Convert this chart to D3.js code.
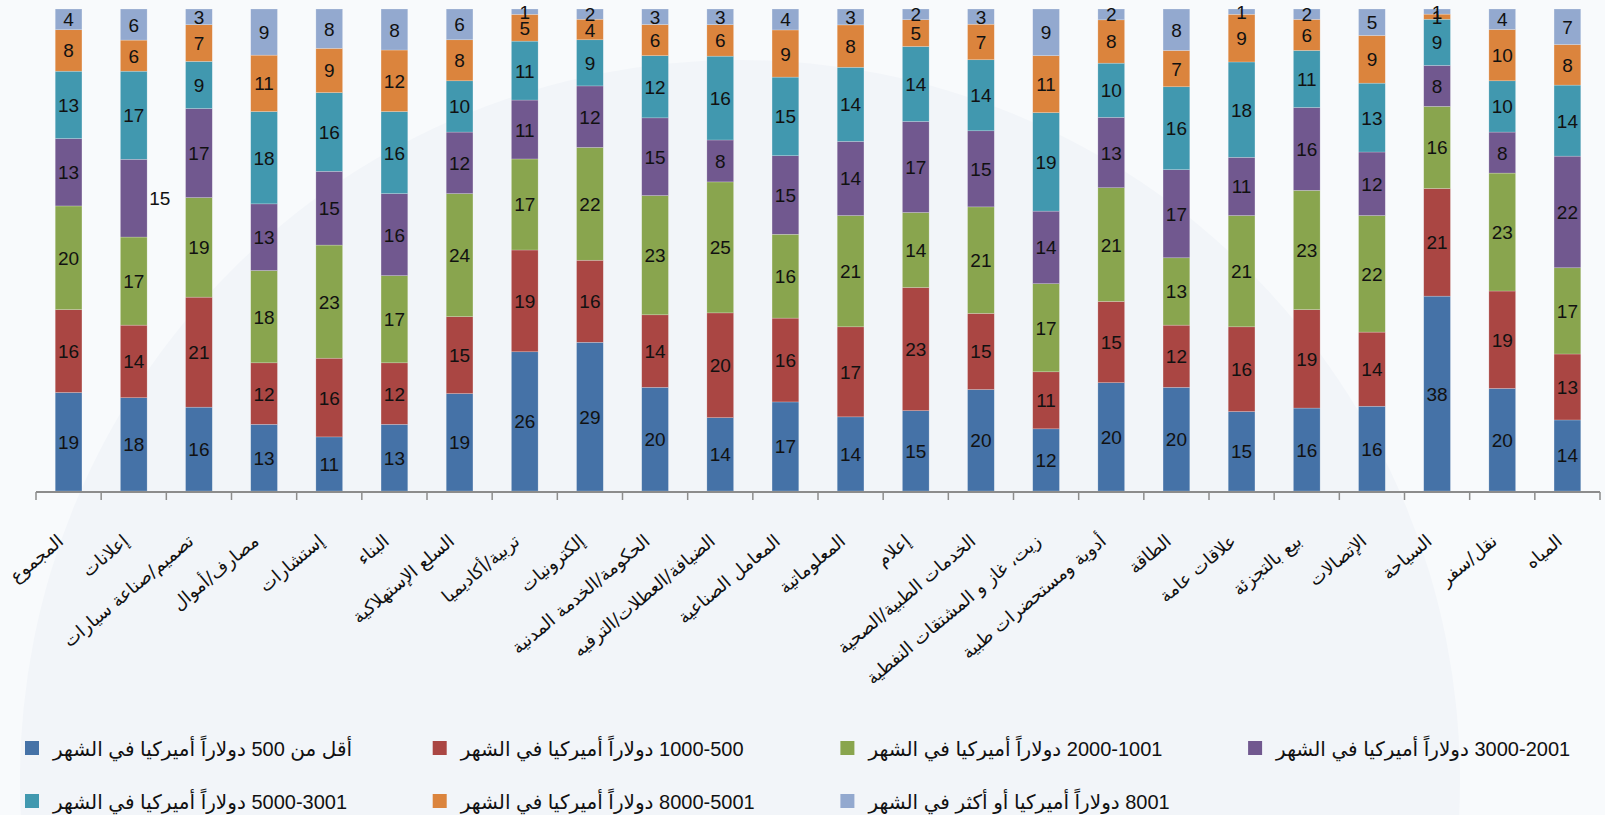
<!DOCTYPE html>
<html>
<head>
<meta charset="utf-8">
<script src="https://cdn.jsdelivr.net/npm/d3@7"></script>
<style>
  body { margin: 0; background: #f6f8fb; }
  svg { display: block; }
</style>
</head>
<body>
<svg></svg>
<script>
const categories = ["المجموع", "إعلانات", "تصميم/صناعة سيارات", "مصارف/أموال", "إستشارات", "البناء",
  "السلع الإستهلاكية", "تربية/أكاديميا", "إلكترونيات", "الحكومة/الخدمة المدنية", "الضيافة/العطلات/الترفيه",
  "المعامل الصناعية", "المعلوماتية", "إعلام", "الخدمات الطبية/الصحية", "زيت، غاز و المشتقات النفطية",
  "أدوية ومستحضرات طبية", "الطاقة", "علاقات عامة", "بيع بالتجزئة", "الإتصالات", "السياحة", "نقل/سفر", "المياه"]

// one array per salary band, bottom to top
const below500 = [19, 18, 16, 13, 11, 13, 19, 26, 29, 20, 14, 17, 14, 15, 20, 12, 20, 20, 15, 16, 16, 38, 20, 14]
const from500 = [16, 14, 21, 12, 16, 12, 15, 19, 16, 14, 20, 16, 17, 23, 15, 11, 15, 12, 16, 19, 14, 21, 19, 13]
const from1001 = [20, 17, 19, 18, 23, 17, 24, 17, 22, 23, 25, 16, 21, 14, 21, 17, 21, 13, 21, 23, 22, 16, 23, 17]
const from2001 = [13, 15, 17, 13, 15, 16, 12, 11, 12, 15, 8, 15, 14, 17, 15, 14, 13, 17, 11, 16, 12, 8, 8, 22]
const from3001 = [13, 17, 9, 18, 16, 16, 10, 11, 9, 12, 16, 15, 14, 14, 14, 19, 10, 16, 18, 11, 13, 9, 10, 14]
const from5001 = [8, 6, 7, 11, 9, 12, 8, 5, 4, 6, 6, 9, 8, 5, 7, 11, 8, 7, 9, 6, 9, 1, 10, 8]
const over8000 = [4, 6, 3, 9, 8, 8, 6, 1, 2, 3, 3, 4, 3, 2, 3, 9, 2, 8, 1, 2, 5, 1, 4, 7]

const seriesNames = [
  "أقل من 500 دولاراً أميركيا في الشهر",
  "1000-500 دولاراً أميركيا في الشهر",
  "2000-1001 دولاراً أميركيا في الشهر",
  "3000-2001 دولاراً أميركيا في الشهر",
  "5000-3001 دولاراً أميركيا في الشهر",
  "8000-5001 دولاراً أميركيا في الشهر",
  "8001 دولاراً أميركيا أو أكثر في الشهر"
]
const colors = ["#4572a7", "#aa4643", "#89a54e", "#71588f", "#4198af", "#db843d", "#93a9cf"]

const seriesValues = [below500, from500, from1001, from2001, from3001, from5001, over8000]
const keys = seriesNames.map((d, i) => "s" + i)

const rows = categories.map((c, j) => {
  const row = {cat: c}
  seriesValues.forEach((vals, i) => row[keys[i]] = vals[j])
  return row
})

let width = 1605,
    height = 815,
    plotTop = 9,
    plotBottom = 491,
    axisLeft = 36,
    axisRight = 1600

const svg = d3.select("svg").attr("width", width).attr("height", height)

// background shading
svg.append("rect").attr("width", width).attr("height", height).attr("fill", "#f8fafc")
svg.append("circle").attr("cx", 740).attr("cy", 780).attr("r", 720).attr("fill", "#f2f5f9")

const x = d3.scaleBand().domain(categories).range([axisLeft, axisRight]).paddingInner(0.59).paddingOuter(0.295)
const y = d3.scaleLinear().domain([0, 1]).range([plotBottom, plotTop])

const stacked = d3.stack().keys(keys).offset(d3.stackOffsetExpand)(rows)

const layers = svg.append("g").selectAll("g")
  .data(stacked)
  .join("g")
  .attr("fill", (d, i) => colors[i])

layers.selectAll("rect")
  .data(d => d)
  .join("rect")
  .attr("x", d => x(d.data.cat))
  .attr("y", d => y(d[1]))
  .attr("width", x.bandwidth())
  .attr("height", d => y(d[0]) - y(d[1]))
  .attr("stroke", "#ffffff")
  .attr("stroke-opacity", 0.35)
  .attr("stroke-width", 0.6)

// value labels
const labelG = svg.append("g")
  .style("font-family", "'Liberation Sans', Arial, sans-serif")
  .style("font-size", "19px")
  .attr("fill", "#111")
  .attr("text-anchor", "middle")

stacked.forEach((layer, i) => {
  layer.forEach((d, j) => {
    let lx = x(d.data.cat) + x.bandwidth() / 2
    let ly = (y(d[0]) + y(d[1])) / 2 + 7
    // the reference pushes this one label outside its bar
    if (j == 1 && i == 3) lx += 26
    labelG.append("text").attr("x", lx).attr("y", ly).text(d.data[keys[i]])
  })
})

// x axis
const axis = svg.append("g")
axis.append("line")
  .attr("x1", axisLeft).attr("x2", axisRight)
  .attr("y1", plotBottom + 1).attr("y2", plotBottom + 1)
  .attr("stroke", "#8c8c8c").attr("stroke-width", 2)

const step = x.step()
d3.range(categories.length + 1).forEach(i => {
  axis.append("line")
    .attr("x1", axisLeft + i * step).attr("x2", axisLeft + i * step)
    .attr("y1", plotBottom + 1).attr("y2", plotBottom + 9)
    .attr("stroke", "#8c8c8c").attr("stroke-width", 1.5)
})

axis.selectAll("text.cat")
  .data(categories)
  .join("text")
  .attr("class", "cat")
  .attr("transform", d => `translate(${x(d) + x.bandwidth() / 2 - 4},${plotBottom + 52}) rotate(-40)`)
  .attr("text-anchor", "end")
  .style("font-family", "'DejaVu Sans', sans-serif")
  .style("font-size", "18px")
  .attr("fill", "#111")
  .text(d => d)

// legend, 4 columns x 2 rows
const legend = svg.append("g")
  .style("font-family", "'Liberation Sans', 'DejaVu Sans', sans-serif")
  .style("font-size", "20px")

seriesNames.forEach((name, i) => {
  const lx = 25 + (i % 4) * 407.7
  const ly = 748 + Math.floor(i / 4) * 53
  legend.append("rect")
    .attr("x", lx).attr("y", ly - 7)
    .attr("width", 14).attr("height", 14)
    .attr("fill", colors[i])
  legend.append("text")
    .attr("x", lx + 28).attr("y", ly + 8)
    .attr("fill", "#111")
    .text("\u200F" + name)
})
</script>
</body>
</html>
